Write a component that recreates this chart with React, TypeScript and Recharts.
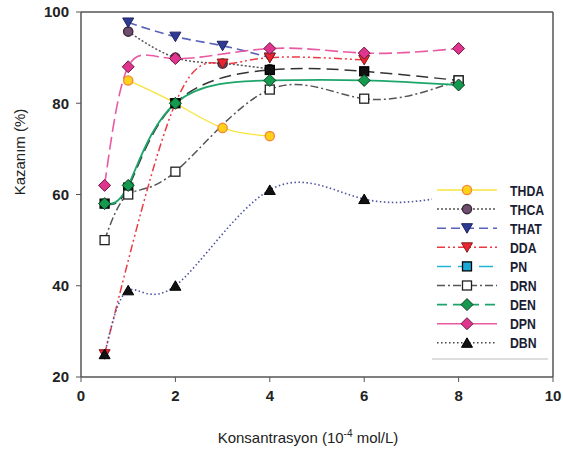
import React from 'react';
import { LineChart, Line, XAxis, YAxis, ReferenceLine } from 'recharts';

const concentrations = [0.5, 1, 2, 3, 4, 6, 8];
const thda = [null, 85, 80, 74.6, 72.8, null, null];
const thca = [null, 95.7, 90, 88.7, 87.5, null, null];
const that = [null, 97.7, 94.6, 92.6, 90, null, null];
const dda = [25, null, 80, 88.7, 90, 89.5, null];
const pn = [58, 61.5, 80, null, 87.3, 87, 85];
const drn = [50, 60, 65, null, 83, 81, 85];
const den = [58, 62, 80, null, 85, 85, 84];
const dpn = [62, 88, 89.8, null, 92, 91, 92];
const dbn = [25, 39, 40, null, 61, 59, 60];

const xTicks = [0, 2, 4, 6, 8, 10];
const yTicks = [20, 40, 60, 80, 100];

type Shape = 'circle' | 'triDown' | 'triUp' | 'square' | 'diamond';

interface Series {
  key: string;
  values: (number | null)[];
  stroke: string;
  dash?: string;
  width: number;
  shape: Shape;
  fill: string;
  markStroke: string;
  // legend can differ from what is drawn in the plot
  legendStroke?: string;
  legendDash?: string;
  legendFill?: string;
}

const series: Series[] = [
  { key: 'THDA', values: thda, stroke: '#f7e43a', width: 1.3, shape: 'circle', fill: '#ffd21a', markStroke: '#f58a3a' },
  { key: 'THCA', values: thca, stroke: '#555', dash: '2 2', width: 1.5, shape: 'circle', fill: '#6e4d6e', markStroke: '#3a2a3a' },
  { key: 'THAT', values: that, stroke: '#5963b8', dash: '9 5', width: 1.6, shape: 'triDown', fill: '#2e3a94', markStroke: '#1c2260' },
  { key: 'DDA', values: dda, stroke: '#ec3a44', dash: '8 3 2 3 2 3', width: 1.5, shape: 'triDown', fill: '#e8262f', markStroke: '#8a1a1a' },
  { key: 'PN', values: pn, stroke: '#333', dash: '12 6', width: 1.5, shape: 'square', fill: '#111', markStroke: '#000', legendStroke: '#22b4d4', legendDash: '14 7', legendFill: '#1aa8d8' },
  { key: 'DRN', values: drn, stroke: '#555', dash: '8 3 2 3', width: 1.5, shape: 'square', fill: '#fff', markStroke: '#222' },
  { key: 'DEN', values: den, stroke: '#1ea66a', width: 1.8, shape: 'diamond', fill: '#149a4c', markStroke: '#0d3a22', legendDash: '10 6' },
  { key: 'DPN', values: dpn, stroke: '#ea5aa2', dash: '13 5', width: 1.6, shape: 'diamond', fill: '#e0358f', markStroke: '#6a1a40', legendDash: '0' },
  { key: 'DBN', values: dbn, stroke: '#4d54a0', dash: '1.5 2.5', width: 1.6, shape: 'triUp', fill: '#111', markStroke: '#000', legendStroke: '#444' },
];

const data = concentrations.map((c, i) => {
  const row: Record<string, number | null> = { x: c };
  series.forEach((s) => {
    row[s.key] = s.values[i];
  });
  return row;
});

function Marker({ shape, x, y, fill, stroke }: { shape: Shape; x: number; y: number; fill: string; stroke: string }) {
  if (shape === 'circle') return <circle cx={x} cy={y} r={4.6} fill={fill} stroke={stroke} strokeWidth={1.4} />;
  if (shape === 'square') return <rect x={x - 4.5} y={y - 4.5} width={9} height={9} fill={fill} stroke={stroke} strokeWidth={1.3} />;
  if (shape === 'diamond')
    return <polygon points={`${x},${y - 6} ${x + 6},${y} ${x},${y + 6} ${x - 6},${y}`} fill={fill} stroke={stroke} strokeWidth={1} />;
  if (shape === 'triDown')
    return <polygon points={`${x - 5.5},${y - 4.5} ${x + 5.5},${y - 4.5} ${x},${y + 5}`} fill={fill} stroke={stroke} strokeWidth={1} />;
  return <polygon points={`${x - 5.5},${y + 4.5} ${x + 5.5},${y + 4.5} ${x},${y - 5}`} fill={fill} stroke={stroke} strokeWidth={1} />;
}

const makeDot = (s: Series) => (props: any) => {
  const { cx, cy, index, value } = props;
  if (cx == null || cy == null || value == null) return <g key={`${s.key}-${index}`} />;
  return (
    <g key={`${s.key}-${index}`}>
      <Marker shape={s.shape} x={cx} y={cy} fill={s.fill} stroke={s.markStroke} />
    </g>
  );
};

const tickStyle = { fontFamily: 'Liberation Sans, Arial, sans-serif', fontWeight: 700, fontSize: 15, fill: '#222' };

function LegendBox() {
  return (
    <div style={{ position: 'absolute', left: 432, top: 176, width: 118, height: 186, background: '#fff' }}>
      <svg width={118} height={186}>
        {series.map((s, i) => {
          const y = 14 + i * 19.1;
          return (
            <g key={s.key}>
              <line
                x1={5}
                x2={65}
                y1={y}
                y2={y}
                stroke={s.legendStroke ?? s.stroke}
                strokeWidth={s.width}
                strokeDasharray={s.legendDash ?? s.dash}
              />
              <Marker shape={s.shape} x={35} y={y} fill={s.legendFill ?? s.fill} stroke={s.markStroke} />
              {/* squeezed horizontally to mimic the narrow bold face */}
              <text transform={`translate(78 ${y + 5.5}) scale(0.82 1)`} style={{ ...tickStyle, fill: '#1b1d33' }}>
                {s.key}
              </text>
            </g>
          );
        })}
        <line x1={0} x2={116} y1={183} y2={183} stroke="#bbb" strokeWidth={1} />
      </svg>
    </div>
  );
}

export default function App() {
  return (
    <div style={{ position: 'absolute', left: 0, top: 0, width: 563, height: 450, background: '#fff' }}>
      <LineChart width={563} height={450} data={data} margin={{ top: 12, right: 10, bottom: 43, left: 0 }}>
        <XAxis
          dataKey="x"
          type="number"
          domain={[0, 10]}
          ticks={xTicks}
          tick={tickStyle}
          tickSize={5}
          tickMargin={8}
          height={30}
          stroke="#555"
          axisLine={{ stroke: '#555', strokeWidth: 1.5 }}
        />
        <YAxis
          type="number"
          domain={[20, 100]}
          ticks={yTicks}
          tick={tickStyle}
          tickSize={5}
          tickMargin={7}
          width={81}
          stroke="#555"
          axisLine={{ stroke: '#555', strokeWidth: 1.5 }}
        />
        <ReferenceLine y={100} stroke="#555" strokeWidth={1.5} />
        <ReferenceLine x={10} stroke="#555" strokeWidth={1.5} />
        {series.map((s) => (
          <Line
            key={s.key}
            dataKey={s.key}
            type="natural"
            stroke={s.stroke}
            strokeWidth={s.width}
            strokeDasharray={s.dash}
            dot={makeDot(s)}
            activeDot={false}
            connectNulls
            isAnimationActive={false}
          />
        ))}
      </LineChart>
      <LegendBox />
      <div
        style={{
          position: 'absolute',
          left: 19,
          top: 152,
          transform: 'translate(-50%, -50%) rotate(-90deg)',
          whiteSpace: 'nowrap',
          fontFamily: 'Liberation Sans, Arial, sans-serif',
          fontSize: 15,
          color: '#222',
        }}
      >
        Kazanım (%)
      </div>
      <div
        style={{
          position: 'absolute',
          left: 308,
          top: 437,
          transform: 'translate(-50%, -50%)',
          whiteSpace: 'nowrap',
          fontFamily: 'Liberation Sans, Arial, sans-serif',
          fontSize: 15,
          color: '#222',
        }}
      >
        Konsantrasyon (10<sup style={{ fontSize: 10, verticalAlign: 'super', lineHeight: 0 }}>-4</sup> mol/L)
      </div>
    </div>
  );
}
